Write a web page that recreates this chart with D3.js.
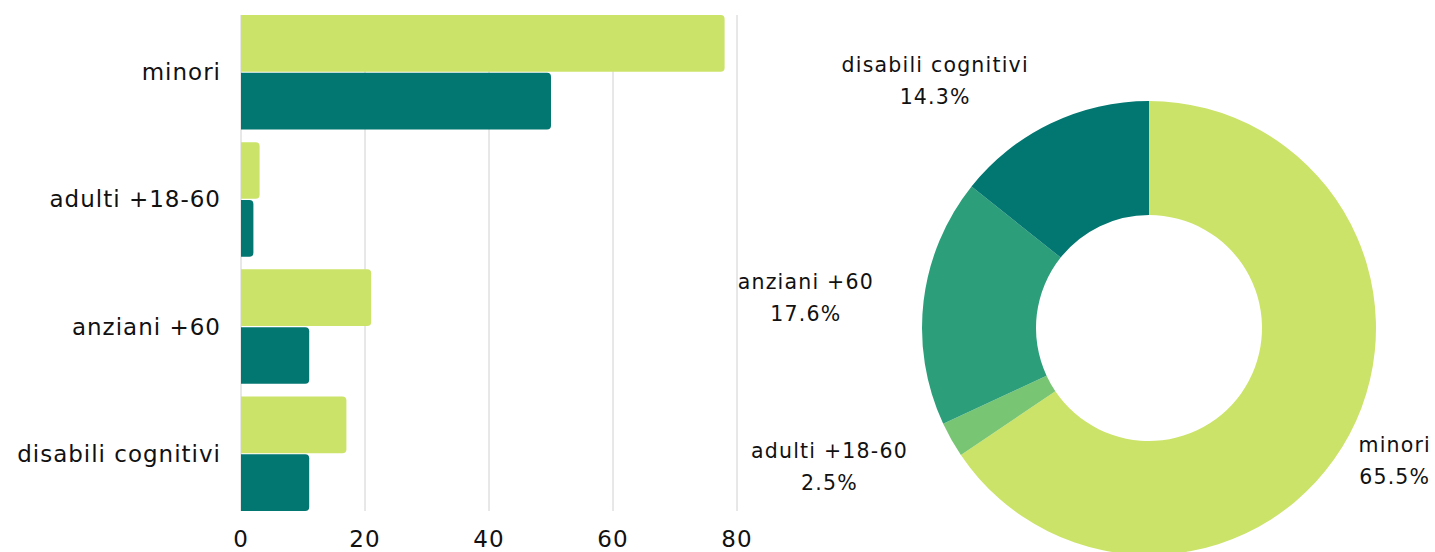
<!DOCTYPE html>
<html lang="en">
<head>
<meta charset="utf-8">
<title>Utenti per categoria</title>
<script src="https://d3js.org/d3.v7.min.js"></script>
<style>
  body { margin: 0; background: #fff; }
  svg { display: block; font-family: "DejaVu Sans", "Noto Sans", sans-serif; }
  .grid line { stroke: #d0d0d0; stroke-width: 1; }
  .cat { font-size: 23px; fill: #111; letter-spacing: 1px; }
  .tick-lbl { font-size: 23px; fill: #111; letter-spacing: 1px; }
  .pie-lbl { font-size: 20.5px; fill: #111; letter-spacing: 1.2px; }
</style>
</head>
<body>
<svg width="1435" height="552"></svg>
<script>
// data
const categories = ["minori", "adulti +18-60", "anziani +60", "disabili cognitivi"];
const seriesA = [78, 3, 21, 17];   // light green bars (also used for the donut)
const seriesB = [50, 2, 11, 11];   // dark teal bars
const xTicks = [0, 20, 40, 60, 80];

const colA = "#cbe368", colB = "#027670";
const pieColors = ["#cbe368", "#78c673", "#2c9f7a", "#027670"];

const svg = d3.select("svg");
const W = 1435, H = 552;

// ---- bar chart ----
const m = { left: 241, right: 737, top: 15, bottom: 511 };

const x = d3.scaleLinear().domain([0, 80]).range([m.left, m.right]);
const y = d3.scaleBand().domain(categories).range([m.top, m.bottom])
    .paddingInner(0.1).paddingOuter(0);
const ySub = d3.scaleBand().domain(["a", "b"]).range([0, y.bandwidth()]).paddingInner(0.02);

// grid
svg.append("g").attr("class", "grid")
    .selectAll("line").data(xTicks).join("line")
    .attr("x1", d => x(d)).attr("x2", d => x(d))
    .attr("y1", m.top).attr("y2", m.bottom);

// bar with rounded right corners
function barPath(x0, y0, w, h, r) {
    r = Math.min(r, w / 2, h / 2);
    return `M${x0},${y0}H${x0 + w - r}Q${x0 + w},${y0} ${x0 + w},${y0 + r}` +
           `V${y0 + h - r}Q${x0 + w},${y0 + h} ${x0 + w - r},${y0 + h}H${x0}Z`;
}

const rows = categories.map((c, i) => ({ cat: c, a: seriesA[i], b: seriesB[i] }));

const g = svg.append("g");
g.selectAll("path.a").data(rows).join("path")
    .attr("class", "a").attr("fill", colA)
    .attr("d", d => barPath(x(0), y(d.cat) + ySub("a"), x(d.a) - x(0), ySub.bandwidth(), 4));
g.selectAll("path.b").data(rows).join("path")
    .attr("class", "b").attr("fill", colB)
    .attr("d", d => barPath(x(0), y(d.cat) + ySub("b"), x(d.b) - x(0), ySub.bandwidth(), 4));

// category labels
svg.append("g").selectAll("text").data(categories).join("text")
    .attr("class", "cat")
    .attr("x", m.left - 20)
    .attr("y", d => y(d) + y.bandwidth() / 2)
    .attr("dy", "0.35em")
    .attr("text-anchor", "end")
    .text(d => d);

// x tick labels
svg.append("g").selectAll("text").data(xTicks).join("text")
    .attr("class", "tick-lbl")
    .attr("x", d => x(d))
    .attr("y", 547)
    .attr("text-anchor", "middle")
    .text(d => d);

// ---- donut ----
const cx = 1149, cy = 328, outerR = 227, innerR = 113;
const total = d3.sum(seriesA);
const pieData = d3.pie().sort(null).value(d => d.a)(rows);
const arc = d3.arc().innerRadius(innerR).outerRadius(outerR);

const pg = svg.append("g").attr("transform", `translate(${cx},${cy})`);
pg.selectAll("path").data(pieData).join("path")
    .attr("fill", (d, i) => pieColors[i])
    .attr("d", arc);

// labels outside the ring
const labR = 277;
const lg = pg.selectAll("g.lbl").data(pieData).join("g").attr("class", "lbl");
lg.each(function (d) {
    const sel = d3.select(this);
    const mid = (d.startAngle + d.endAngle) / 2;
    const ax = Math.sin(mid) * labR, ay = -Math.cos(mid) * labR;
    const t = sel.append("text").attr("class", "pie-lbl").attr("text-anchor", "middle");
    t.append("tspan").attr("x", 0).attr("dy", "-0.3em").text(d.data.cat);
    t.append("tspan").attr("x", 0).attr("dy", "1.55em")
        .text(d3.format(".1f")(d.data.a / total * 100) + "%");
    const w = t.node().getBBox().width;
    let lx = ax + Math.sign(ax) * w / 2;
    lx = Math.min(lx, W - 4 - w / 2 - cx);
    sel.attr("transform", `translate(${lx},${ay})`);
});
</script>
</body>
</html>
